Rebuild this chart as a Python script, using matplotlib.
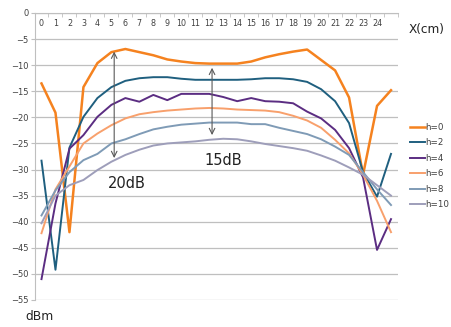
import numpy as np
import matplotlib
matplotlib.use("Agg")
import matplotlib.pyplot as plt

# positions along the strip (cm), only 0..24 are labelled
x_cm = list(range(26))
x_labels = [str(i) for i in range(25)]

# received power (dBm) for each height h
h0 = [-13.5, -19.1, -42.0, -14.2, -9.6, -7.5, -6.9, -7.5, -8.1, -8.9, -9.3, -9.6, -9.7,
      -9.7, -9.7, -9.3, -8.5, -7.9, -7.4, -7.0, -9.0, -11.0, -16.2, -31.0, -17.8, -14.8]
h2 = [-28.3, -49.2, -25.8, -19.9, -16.3, -14.2, -13.0, -12.5, -12.3, -12.3, -12.6, -12.8, -12.8,
      -12.8, -12.8, -12.7, -12.5, -12.5, -12.7, -13.2, -14.6, -16.9, -21.1, -30.5, -35.2, -27.0]
h4 = [-51.0, -36.5, -26.0, -23.4, -19.9, -17.6, -16.3, -17.0, -15.7, -16.7, -15.5, -15.5, -15.5,
      -16.1, -16.9, -16.3, -16.9, -17.0, -17.3, -18.9, -20.2, -22.4, -25.9, -31.5, -45.4, -39.5]
h6 = [-42.2, -33.8, -29.4, -25.0, -23.1, -21.5, -20.2, -19.4, -19.0, -18.7, -18.5, -18.3, -18.2,
      -18.3, -18.5, -18.6, -18.7, -19.0, -19.7, -20.6, -22.0, -24.3, -26.9, -31.0, -36.0, -42.0]
h8 = [-38.8, -34.0, -30.5, -28.2, -27.0, -25.0, -24.2, -23.2, -22.3, -21.8, -21.4, -21.2, -21.0,
      -21.0, -21.0, -21.3, -21.3, -22.0, -22.6, -23.2, -24.2, -25.6, -27.2, -30.5, -33.8, -36.8]
h10 = [-40.3, -35.0, -33.0, -32.0, -30.1, -28.5, -27.2, -26.2, -25.4, -25.0, -24.8, -24.6, -24.3,
       -24.1, -24.2, -24.6, -25.1, -25.5, -25.9, -26.4, -27.3, -28.3, -29.6, -31.0, -33.0, -35.0]

series = [h0, h2, h4, h6, h8, h10]
names = ["h=0", "h=2", "h=4", "h=6", "h=8", "h=10"]
colors = ["#F5821F", "#1F5F7F", "#5B2D82", "#F8A06C", "#7F9BB6", "#9E9EBA"]
widths = [1.8, 1.4, 1.4, 1.4, 1.4, 1.4]

fig = plt.figure(figsize=(4.51, 3.27), dpi=100)
ax = fig.add_axes([34.5 / 451, 27 / 327, (398 - 34.5) / 451, (300 - 13) / 327])

for y, name, c, w in zip(series, names, colors, widths):
    ax.plot(x_cm, y, color=c, lw=w, label=name, solid_joinstyle="round")

ax.set_xlim(-0.5, 25.5)
ax.set_ylim(-55, 0)
ax.set_yticks(np.arange(-55, 1, 5))
ax.yaxis.grid(True, color="#BFBFBF", lw=0.9)
ax.set_axisbelow(True)
for s in ["right", "bottom"]:
    ax.spines[s].set_visible(False)
ax.spines["left"].set_color("#BFBFBF")
ax.spines["top"].set_color("#BFBFBF")

ax.set_xticks(range(25))
ax.set_xticklabels(x_labels)
ax.set_xticks(np.arange(-0.5, 26, 1), minor=True)
ax.tick_params(axis="x", which="both", top=True, bottom=False, labeltop=True,
               labelbottom=False, direction="in")
ax.tick_params(axis="x", which="major", length=0, pad=-10.5, labelsize=5.8,
               labelcolor="#404040")
ax.tick_params(axis="x", which="minor", length=3, color="#BFBFBF")
ax.tick_params(axis="y", length=3, color="#BFBFBF", labelsize=6, labelcolor="#404040",
               pad=1.5)

# double arrows showing the attenuation
arr = dict(arrowstyle="<->", color="#595959", lw=0.8, shrinkA=0, shrinkB=0)
ax.annotate("", xy=(5.2, -7.4), xytext=(5.2, -27.8), arrowprops=arr)
ax.annotate("", xy=(12.2, -10.5), xytext=(12.2, -23.4), arrowprops=arr)
ax.text(6.1, -32.6, "20dB", fontsize=10.5, ha="center", va="center", color="#222222",
        bbox=dict(facecolor="white", edgecolor="none", pad=2))
ax.text(13.0, -28.2, "15dB", fontsize=10.5, ha="center", va="center", color="#222222")

fig.text(409 / 451, 1 - 30 / 327, "X(cm)", fontsize=8.7, ha="left", va="center",
         color="#222222")
fig.text(25 / 451, 1 - 317 / 327, "dBm", fontsize=8.8, ha="left", va="center",
         color="#222222")

fig.legend(loc="center left", bbox_to_anchor=(410 / 451, 1 - 166 / 327),
           frameon=False, fontsize=6.3, handlelength=1.7, handletextpad=0.1,
           labelspacing=0.75, borderpad=0, borderaxespad=0, labelcolor="#404040")

fig.savefig("out.png", dpi=100)
